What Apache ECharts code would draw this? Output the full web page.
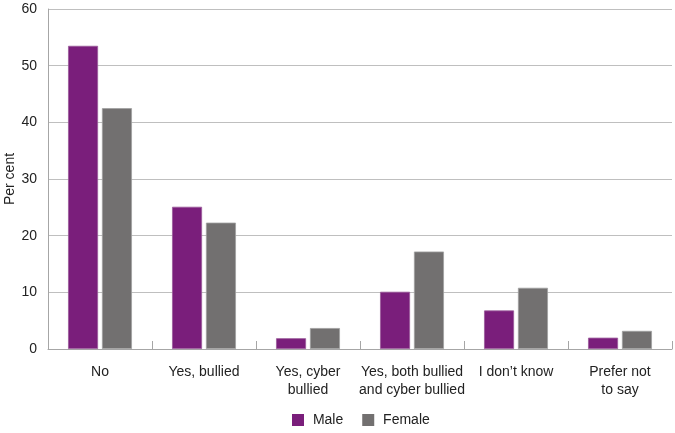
<!DOCTYPE html>
<html><head><meta charset="utf-8">
<script src="https://cdn.jsdelivr.net/npm/echarts@6/dist/echarts.min.js"></script>
<style>html,body{margin:0;padding:0;background:#fff}#c{width:675px;height:433px}</style>
</head><body><div id="c"></div>
<script>
var categories = ['No', 'Yes, bullied', 'Yes, cyber\nbullied', 'Yes, both bullied\nand cyber bullied', 'I don\u2019t know', 'Prefer not\nto say'];
var maleValues = [53.5, 25.1, 1.9, 10.1, 6.8, 2.0];
var femaleValues = [42.5, 22.3, 3.7, 17.2, 10.8, 3.2];
var seriesNames = ['Male', 'Female'];
var yTicks = {min: 0, max: 60, interval: 10};

var chart = echarts.init(document.getElementById('c'), null, {renderer: 'canvas'});
var font = 'Arial, "Liberation Sans", sans-serif';
chart.setOption({
  animation: false,
  textStyle: {fontFamily: font},
  grid: {left: 48, right: 3, top: 9, bottom: 84, containLabel: false, outerBoundsMode: 'none'},
  legend: {
    data: seriesNames, left: 287, top: 408, itemWidth: 12, itemHeight: 12, itemGap: 19,
    icon: 'rect', formatter: ' {name}', itemStyle: {borderWidth: 0},
    textStyle: {fontSize: 14, color: '#222', fontFamily: font}
  },
  xAxis: {
    type: 'category', data: categories,
    axisLine: {lineStyle: {color: '#A6A6A6', width: 1}},
    axisTick: {show: true, inside: true, length: 8, lineStyle: {color: '#A6A6A6'}},
    axisLabel: {fontSize: 14, color: '#222', lineHeight: 18, margin: 14, interval: 0, fontFamily: font}
  },
  yAxis: {
    type: 'value', min: yTicks.min, max: yTicks.max, interval: yTicks.interval,
    name: 'Per cent', nameLocation: 'middle', nameGap: 31, nameRotate: 90, nameMoveOverlap: false,
    nameTextStyle: {fontSize: 14, color: '#222', fontFamily: font},
    axisLine: {show: true, lineStyle: {color: '#A6A6A6'}},
    axisTick: {show: false},
    axisLabel: {fontSize: 14, color: '#222', margin: 11, fontFamily: font},
    splitLine: {lineStyle: {color: '#BFBFBF', width: 1}}
  },
  series: [
    {name: seriesNames[0], type: 'bar', data: maleValues, barWidth: 30, barGap: '13%',
     itemStyle: {color: '#7A1E7B', borderColor: '#9A5A9B', borderWidth: 0.8}},
    {name: seriesNames[1], type: 'bar', data: femaleValues, barWidth: 30,
     itemStyle: {color: '#727070', borderColor: '#A0A0A0', borderWidth: 0.8}}
  ]
});
</script></body></html>
